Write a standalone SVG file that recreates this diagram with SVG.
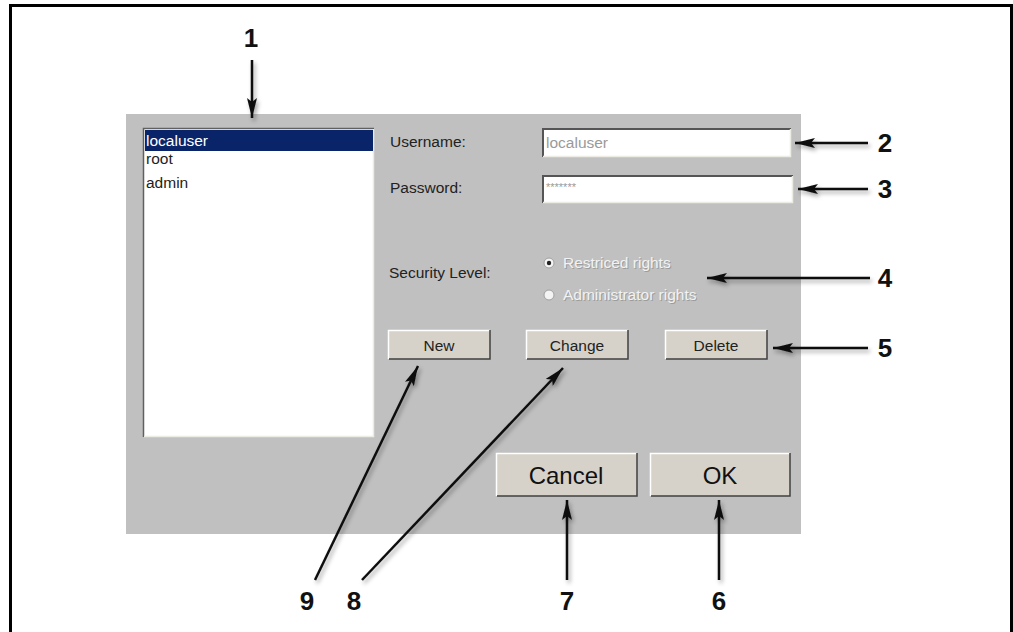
<svg xmlns="http://www.w3.org/2000/svg" width="1013" height="632" viewBox="0 0 1013 632">
  <defs>
    <style>
      .ui { font-family: "Liberation Sans", Arial, sans-serif; font-size: 15.5px; fill: #222; }
      .dimlo { font-family: "Liberation Sans", Arial, sans-serif; font-size: 15.5px; fill: #9c9c9c; }
      .dimhi { font-family: "Liberation Sans", Arial, sans-serif; font-size: 15.5px; fill: #f2f2f2; }
      .num { font-family: "Liberation Sans", Arial, sans-serif; font-size: 26px; font-weight: bold; fill: #111; text-anchor: middle; }
      .btn { fill: #d6d2ca; }
      .btnlt { fill: none; stroke: #ffffff; stroke-width: 1.5; }
      .btndk { fill: none; stroke: #404040; stroke-width: 1.5; }
      .big { font-family: "Liberation Sans", Arial, sans-serif; font-size: 24px; fill: #111; text-anchor: middle; }
      .lead { stroke: #111; stroke-width: 2.5; fill: none; marker-end: url(#tip); }
    </style>
    <marker id="tip" viewBox="0 0 20 10" refX="20" refY="5" markerWidth="8" markerHeight="4" markerUnits="strokeWidth" orient="auto">
      <path d="M0,0 L20,5 L0,10 L4,5 Z" fill="#111"/>
    </marker>
    <filter id="shade" x="-20%" y="-20%" width="140%" height="140%">
      <feDropShadow dx="2" dy="3" stdDeviation="2" flood-color="#000" flood-opacity="0.35"/>
    </filter>
  </defs>

  <!-- page frame -->
  <rect width="1013" height="632" fill="#ffffff"/>
  <path d="M10.5,632 V5.5 H1011.5 V632" fill="none" stroke="#000" stroke-width="3"/>

  <!-- dialog panel -->
  <g id="panel">
    <rect x="126" y="114" width="675" height="420" fill="#c0c0c0"/>
  </g>

  <!-- user list -->
  <g id="user-list">
    <rect x="143" y="128" width="231" height="309" fill="#ffffff"/>
    <path d="M143.5,437 V128.5 H374" stroke="#606060" stroke-width="1.5" fill="none"/>
    <path d="M144,436.5 H373.5 V129" stroke="#ecebe4" stroke-width="1.5" fill="none"/>
    <rect x="145" y="130" width="228" height="21" fill="#0a246a"/>
    <text class="ui" x="146" y="146" style="fill:#ffffff">localuser</text>
    <text class="ui" x="146" y="164">root</text>
    <text class="ui" x="146" y="188">admin</text>
  </g>

  <!-- username field -->
  <g id="username">
    <text class="ui" x="390" y="147">Username:</text>
    <rect x="542" y="128" width="249" height="29" fill="#ffffff"/>
    <path d="M543,157 V129 H791" stroke="#555" stroke-width="2" fill="none"/>
    <path d="M543,156.5 H790.5 V129" stroke="#ecebe4" stroke-width="1.5" fill="none"/>
    <text class="ui" x="546" y="148" style="fill:#9a9a9a">localuser</text>
  </g>

  <!-- password field -->
  <g id="password">
    <text class="ui" x="390" y="193">Password:</text>
    <rect x="542" y="175" width="251" height="28" fill="#ffffff"/>
    <path d="M543,203 V176 H793" stroke="#555" stroke-width="2" fill="none"/>
    <path d="M543,202.5 H792.5 V176" stroke="#ecebe4" stroke-width="1.5" fill="none"/>
    <text class="ui" x="546" y="191" style="fill:#9a9a9a;font-size:11px">*******</text>
  </g>

  <!-- security level -->
  <g id="security-level">
    <text class="ui" x="389" y="278">Security Level:</text>
    <circle cx="549" cy="263" r="5" fill="#f4f4f4" stroke="#a0a0a0" stroke-width="1"/>
    <circle cx="549" cy="263" r="2.2" fill="#222"/>
    <text class="dimlo" x="564" y="269">Restriced rights</text>
    <text class="dimhi" x="563" y="268">Restriced rights</text>
    <circle cx="549" cy="295" r="5" fill="#f4f4f4" stroke="#a0a0a0" stroke-width="1"/>
    <text class="dimlo" x="564" y="301">Administrator rights</text>
    <text class="dimhi" x="563" y="300">Administrator rights</text>
  </g>

  <!-- action buttons -->
  <g id="btn-new">
    <rect class="btn" x="388" y="330" width="102" height="29"/>
    <path class="btnlt" d="M388.5,359 V330.5 H490"/>
    <path class="btndk" d="M389,359 H490 V330"/>
    <text class="ui" x="439" y="351" text-anchor="middle">New</text>
  </g>
  <g id="btn-change">
    <rect class="btn" x="526" y="330" width="102" height="29"/>
    <path class="btnlt" d="M526.5,359 V330.5 H628"/>
    <path class="btndk" d="M527,359 H628 V330"/>
    <text class="ui" x="577" y="351" text-anchor="middle">Change</text>
  </g>
  <g id="btn-delete">
    <rect class="btn" x="665" y="330" width="102" height="29"/>
    <path class="btnlt" d="M665.5,359 V330.5 H767"/>
    <path class="btndk" d="M666,359 H767 V330"/>
    <text class="ui" x="716" y="351" text-anchor="middle">Delete</text>
  </g>

  <!-- dialog buttons -->
  <g id="btn-cancel">
    <rect class="btn" x="496" y="453" width="141" height="43"/>
    <path class="btnlt" d="M496.5,496 V453.5 H637"/>
    <path class="btndk" d="M497,496 H637 V453"/>
    <text class="big" x="566" y="484">Cancel</text>
  </g>
  <g id="btn-ok">
    <rect class="btn" x="650" y="453" width="140" height="43"/>
    <path class="btnlt" d="M650.5,496 V453.5 H790"/>
    <path class="btndk" d="M651,496 H790 V453"/>
    <text class="big" x="720" y="484">OK</text>
  </g>

  <!-- callout leaders -->
  <g id="connectors" filter="url(#shade)">
    <line class="lead" x1="252" y1="60" x2="252" y2="118"/>
    <line class="lead" x1="868" y1="143" x2="795" y2="143"/>
    <line class="lead" x1="868" y1="189" x2="798" y2="189"/>
    <line class="lead" x1="870" y1="278" x2="707" y2="278"/>
    <line class="lead" x1="868" y1="348" x2="773" y2="348"/>
    <line class="lead" x1="719" y1="580" x2="719" y2="500"/>
    <line class="lead" x1="567" y1="580" x2="567" y2="500"/>
    <line class="lead" x1="362" y1="580" x2="563" y2="368"/>
    <line class="lead" x1="315" y1="580" x2="418" y2="366"/>
  </g>

  <!-- callout numbers -->
  <g id="labels">
    <text class="num" x="251" y="47">1</text>
    <text class="num" x="885" y="152">2</text>
    <text class="num" x="885" y="198">3</text>
    <text class="num" x="885" y="287">4</text>
    <text class="num" x="885" y="357">5</text>
    <text class="num" x="719" y="610">6</text>
    <text class="num" x="567" y="610">7</text>
    <text class="num" x="354" y="610">8</text>
    <text class="num" x="307" y="610">9</text>
  </g>
</svg>
